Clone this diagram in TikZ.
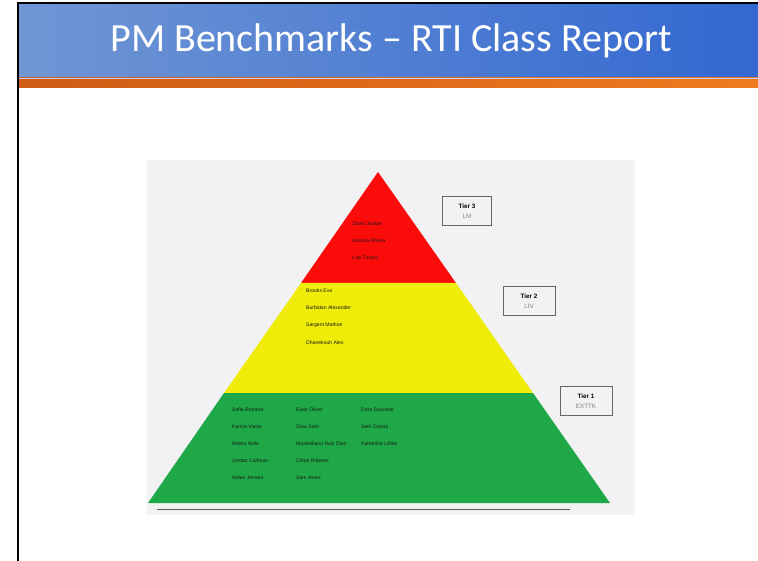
\documentclass[tikz,border=0pt]{standalone}
\usepackage{fontspec}
\setmainfont{Carlito}
\newfontfamily\namefont{Liberation Sans}
\usetikzlibrary{positioning}
\definecolor{barblue}{RGB}{50,104,208}
\definecolor{barlight}{RGB}{112,150,212}
\definecolor{stripedark}{RGB}{205,92,20}
\definecolor{stripelight}{RGB}{240,122,32}
\definecolor{picbg}{RGB}{242,242,245}
\definecolor{tierred}{RGB}{250,12,10}
\definecolor{tieryellow}{RGB}{238,236,8}
\definecolor{tiergreen}{RGB}{30,168,72}
\tikzset{
  studentname/.style={anchor=west,inner sep=0pt,font=\namefont\fontsize{5.1}{6}\selectfont,text=black!90},
  tierbox/.style={draw=black!60,line width=0.8pt,minimum width=49,minimum height=29,
    align=center,inner sep=1pt,font=\namefont\fontsize{6.3}{10}\selectfont},
}
\begin{document}
\begin{tikzpicture}[x=1pt,y=-1pt]
    \useasboundingbox (0,0) rectangle (758,561);
    \fill[white] (0,0) rectangle (758,561);
    % title bar
    \shade[left color=barlight,middle color=barblue,right color=barblue] (18,3) rectangle (758,78);
    \shade[left color=stripedark,right color=stripelight] (18,78) rectangle (758,88);
    \draw[white!80!blue,line width=0.6pt] (18,78) -- (758,78);
    \draw[black,line width=1.6pt] (18,561) -- (18,3) -- (758,3);
    \node[text=white,font=\fontsize{40}{48}\selectfont] (title) at (391,41) {PM Benchmarks -- RTI Class Report};
    % picture
    \fill[picbg] (147,160) rectangle (635,515);
    \coordinate (apex) at (378,172);
    \coordinate (rl) at (301,283);
    \coordinate (rr) at (456,283);
    \coordinate (yl) at (224,393);
    \coordinate (yr) at (533,393);
    \coordinate (bl) at (148,503);
    \coordinate (br) at (610,503);
    \fill[tierred] (apex) -- (rr) -- (rl) -- cycle;
    \fill[tieryellow] (rl) -- (rr) -- (yr) -- (yl) -- cycle;
    \fill[tiergreen] (yl) -- (yr) -- (br) -- (bl) -- cycle;
    \coordinate (lineA) at (157,509);
    \coordinate (lineB) at (570,509);
    \draw[black!65,line width=1pt] (lineA) -- (lineB);
    % tier boxes
    \node[tierbox] (tier3) at (467,211) {\textbf{Tier 3}\\ \textcolor{black!50}{LM}};
    \node[tierbox,minimum width=52] (tier2) at (529,301) {\textbf{Tier 2}\\ \textcolor{black!50}{LIV}};
    \node[tierbox,minimum width=52] (tier1) at (586,401) {\textbf{Tier 1}\\ \textcolor{black!50}{EXTTK}};
    % names
    \foreach \n [count=\i] in {Zhoni Jordan,Jessica Rivera,Luis Tinoco}
        \node[studentname] (red\i) at (352,{207+17*\i}) {\n};
    \foreach \n [count=\i] in {Brooks Eva,Burbidan Alexander,Sargent Mathon,Dhanekouh Alex}
        \node[studentname] (yel\i) at (306,{273+17.3*\i}) {\n};
    \foreach \n [count=\i] in {Sofia Romero,Karina Vieira,Mateo Avila,Jordan Calhoun,Nolan Jensen}
        \node[studentname] (grnA\i) at (232,{393+17*\i}) {\n};
    \foreach \n [count=\i] in {Evan Oliver,Gina Soto,Maximiliano Ruiz Diaz,Chloe Roberts,Sam Alves}
        \node[studentname] (grnB\i) at (296,{393+17*\i}) {\n};
    \foreach \n [count=\i] in {Dora Saucedo,Seth Garcia,Katherine Lillian}
        \node[studentname] (grnC\i) at (361,{393+17*\i}) {\n};
\end{tikzpicture}
\end{document}
